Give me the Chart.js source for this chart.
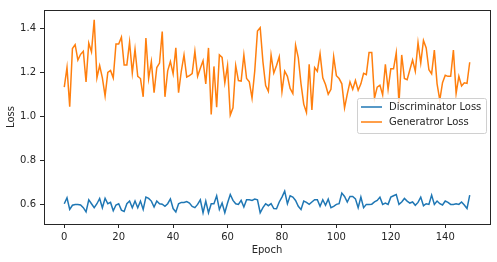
<!DOCTYPE html>
<html>
<head>
<meta charset="utf-8">
<script src="https://cdn.jsdelivr.net/npm/chart.js@4"></script>
<style>
  html, body { margin: 0; padding: 0; background: #fff; }
  #wrap { width: 497px; height: 262px; position: relative; }
</style>
</head>
<body>
<div id="wrap"><canvas id="loss-chart"></canvas></div>
<script>
// values (150 epochs)
const discLoss = [
  0.604, 0.631, 0.578, 0.597, 0.600, 0.600, 0.598, 0.586, 0.567, 0.622,
  0.604, 0.586, 0.604, 0.628, 0.586, 0.629, 0.604, 0.610, 0.572, 0.598,
  0.604, 0.575, 0.569, 0.604, 0.616, 0.586, 0.616, 0.586, 0.616, 0.578,
  0.634, 0.628, 0.616, 0.589, 0.616, 0.604, 0.602, 0.592, 0.604, 0.626,
  0.582, 0.567, 0.604, 0.610, 0.610, 0.614, 0.607, 0.592, 0.586, 0.601,
  0.622, 0.563, 0.616, 0.563, 0.604, 0.604, 0.640, 0.578, 0.607, 0.563,
  0.607, 0.646, 0.619, 0.604, 0.601, 0.619, 0.589, 0.622, 0.622, 0.619,
  0.625, 0.622, 0.563, 0.586, 0.604, 0.595, 0.604, 0.582, 0.581, 0.612,
  0.634, 0.661, 0.604, 0.640, 0.634, 0.619, 0.592, 0.578, 0.616, 0.610,
  0.601, 0.612, 0.622, 0.622, 0.592, 0.622, 0.597, 0.625, 0.586, 0.592,
  0.601, 0.604, 0.652, 0.637, 0.612, 0.637, 0.637, 0.626, 0.586, 0.634,
  0.586, 0.601, 0.601, 0.602, 0.612, 0.619, 0.634, 0.601, 0.607, 0.601,
  0.634, 0.640, 0.646, 0.601, 0.612, 0.628, 0.616, 0.607, 0.612, 0.597,
  0.610, 0.634, 0.595, 0.604, 0.601, 0.643, 0.601, 0.616, 0.604, 0.598,
  0.616, 0.610, 0.601, 0.601, 0.604, 0.601, 0.612, 0.598, 0.582, 0.643
];
const genLoss = [
  1.133, 1.222, 1.044, 1.308, 1.326, 1.256, 1.282, 1.296, 1.157, 1.333,
  1.293, 1.439, 1.175, 1.231, 1.175, 1.093, 1.200, 1.209, 1.175, 1.329,
  1.329, 1.360, 1.234, 1.234, 1.338, 1.197, 1.305, 1.182, 1.172, 1.089,
  1.356, 1.172, 1.249, 1.108, 1.222, 1.242, 1.385, 1.089, 1.207, 1.249,
  1.193, 1.311, 1.108, 1.205, 1.279, 1.179, 1.185, 1.194, 1.296, 1.182,
  1.219, 1.253, 1.148, 1.311, 1.009, 1.227, 1.042, 1.279, 1.268, 1.153,
  1.231, 1.006, 1.039, 1.231, 1.163, 1.160, 1.279, 1.172, 1.157, 1.083,
  1.207, 1.388, 1.403, 1.249, 1.140, 1.114, 1.279, 1.197, 1.231, 1.271,
  1.113, 1.205, 1.182, 1.127, 1.104, 1.323, 1.267, 1.148, 1.056, 1.018,
  1.237, 1.030, 1.222, 1.205, 1.285, 1.175, 1.145, 1.101, 1.123, 1.271,
  1.185, 1.172, 1.148, 1.039, 1.101, 1.157, 1.123, 1.163, 1.119, 1.148,
  1.196, 1.190, 1.290, 1.290, 1.083, 1.133, 1.142, 1.098, 1.237, 1.123,
  1.216, 1.216, 1.289, 1.059, 1.279, 1.172, 1.167, 1.212, 1.256, 1.205,
  1.335, 1.242, 1.345, 1.311, 1.212, 1.193, 1.301, 1.148, 1.074, 1.153,
  1.187, 1.182, 1.182, 1.301, 1.104, 1.182, 1.138, 1.153, 1.150, 1.246
];
const seriesNames = ['Discriminator Loss', 'Generatror Loss'];
const seriesColors = ['#1f77b4', '#ff7f0e'];
const xTicks = [0, 20, 40, 60, 80, 100, 120, 140];
const yTicks = [0.6, 0.8, 1.0, 1.2, 1.4];

const FONT = 'DejaVu Sans';
const INK = '#262626';

function toPoints(arr) {
  return arr.map((v, i) => ({ x: i, y: v }));
}

// box around the plot area plus a matplotlib-like legend at centre right
const framePlugin = {
  id: 'frame',
  afterDraw(chart) {
    const { ctx, chartArea: a } = chart;
    ctx.save();
    ctx.strokeStyle = INK;
    ctx.lineWidth = 1;
    ctx.strokeRect(Math.round(a.left) + 0.5, Math.round(a.top) + 0.5,
      Math.round(a.right - a.left), Math.round(a.bottom - a.top));

    // legend
    const bx = a.right - 133, by = 98, bw = 129, bh = 35;
    ctx.fillStyle = 'rgba(255,255,255,0.8)';
    ctx.strokeStyle = '#d0d0d0';
    ctx.beginPath();
    ctx.roundRect(bx + 0.5, by + 0.5, bw, bh, 2);
    ctx.fill();
    ctx.stroke();
    ctx.font = '10px "' + FONT + '"';
    ctx.textBaseline = 'middle';
    seriesNames.forEach((name, i) => {
      const ly = by + 9 + i * 15;
      ctx.strokeStyle = seriesColors[i];
      ctx.lineWidth = 1.5;
      ctx.beginPath();
      ctx.moveTo(bx + 4, ly);
      ctx.lineTo(bx + 25, ly);
      ctx.stroke();
      ctx.fillStyle = INK;
      ctx.fillText(name, bx + 32, ly);
    });
    ctx.restore();
  }
};

const ctx = document.getElementById('loss-chart').getContext('2d');
const lossChart = new Chart(ctx, {
  type: 'line',
  data: {
    datasets: [
      {
        label: seriesNames[0],
        data: toPoints(discLoss),
        borderColor: seriesColors[0],
        borderWidth: 1.5,
        pointRadius: 0,
        fill: false
      },
      {
        label: seriesNames[1],
        data: toPoints(genLoss),
        borderColor: seriesColors[1],
        borderWidth: 1.5,
        pointRadius: 0,
        fill: false
      }
    ]
  },
  options: {
    responsive: true,
    maintainAspectRatio: false,
    animation: false,
    layout: { padding: { top: 5, right: 7, left: 0, bottom: 0 } },
    plugins: {
      legend: { display: false },
      tooltip: { enabled: false }
    },
    scales: {
      x: {
        type: 'linear',
        min: -7.45,
        max: 156.45,
        afterBuildTicks: (scale) => { scale.ticks = xTicks.map(v => ({ value: v })); },
        afterFit: (scale) => { scale.height = 38; },
        grid: { display: true, drawOnChartArea: false, drawTicks: true, tickLength: 4, color: INK },
        border: { display: false },
        ticks: { color: INK, font: { family: FONT, size: 10 }, padding: 3, maxRotation: 0 },
        title: { display: true, text: 'Epoch', color: INK, font: { family: FONT, size: 10 }, padding: { top: 0, bottom: 6 } }
      },
      y: {
        min: 0.512,
        max: 1.483,
        afterBuildTicks: (scale) => { scale.ticks = yTicks.map(v => ({ value: v })); },
        afterFit: (scale) => { scale.width = 44; },
        grid: { display: true, drawOnChartArea: false, drawTicks: true, tickLength: 4, color: INK },
        border: { display: false },
        ticks: {
          color: INK,
          font: { family: FONT, size: 10 },
          padding: 4,
          callback: (v) => v.toFixed(1)
        },
        title: { display: true, text: 'Loss', color: INK, font: { family: FONT, size: 10 }, padding: { top: 5, bottom: 0 } }
      }
    }
  },
  plugins: [framePlugin]
});
</script>
</body>
</html>
